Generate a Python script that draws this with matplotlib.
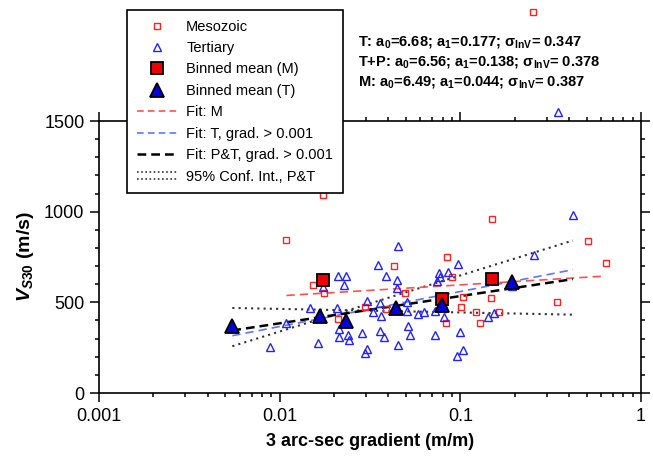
import matplotlib
matplotlib.use("Agg")
import matplotlib.pyplot as plt
from matplotlib.lines import Line2D
from matplotlib.legend_handler import HandlerBase
from matplotlib.ticker import MultipleLocator, LogLocator, NullFormatter

plt.rcParams['font.family'] = ['Liberation Sans', 'DejaVu Sans']
plt.rcParams['mathtext.fontset'] = 'custom'
plt.rcParams['mathtext.rm'] = 'Liberation Sans:bold'
plt.rcParams['mathtext.bf'] = 'Liberation Sans:bold'
plt.rcParams['mathtext.it'] = 'Liberation Sans:italic:bold'
plt.rcParams['mathtext.sf'] = 'Liberation Sans:bold'

# ---------------- data ----------------
meso_x = [0.0109, 0.0153, 0.0177, 0.0174, 0.0211, 0.0296, 0.0388, 0.0427, 0.0493,
          0.0839, 0.0897, 0.0834, 0.1037, 0.147, 0.1012, 0.1222, 0.1641, 0.128,
          0.149, 0.345, 0.506, 0.637, 0.251]
meso_y = [841, 597, 553, 1090, 408, 474, 463, 703, 553,
          748, 638, 387, 529, 526, 474, 447, 447, 388,
          962, 504, 837, 718, 2099]

tert_x = [0.00883, 0.0108, 0.0147, 0.0164, 0.0173, 0.0209, 0.0234, 0.0228, 0.0207,
          0.0214, 0.0214, 0.0240, 0.0242, 0.0285, 0.0304, 0.0297, 0.0306, 0.0327,
          0.0358, 0.0363, 0.0358, 0.0378, 0.0348, 0.0389, 0.0452, 0.0445, 0.0447,
          0.0452, 0.0507, 0.0511, 0.0526, 0.0507, 0.0586, 0.0626, 0.0726, 0.0728,
          0.0740, 0.0765, 0.0772, 0.0855, 0.0815, 0.0800, 0.0976, 0.0998, 0.103,
          0.0960, 0.1417, 0.153, 0.194, 0.257, 0.4215, 0.348]
tert_y = [251, 388, 469, 275, 584, 646, 646, 597, 470,
          352, 309, 320, 291, 331, 244, 220, 505, 448,
          496, 424, 344, 309, 705, 646, 813, 621, 577,
          267, 503, 369, 321, 452, 438, 449, 452, 319,
          615, 660, 639, 665, 417, 489, 710, 334, 236,
          202, 418, 443, 588, 763, 982, 1551]

binM_x = [0.0173, 0.0787, 0.149]
binM_y = [625, 520, 628]

binT_x = [0.00547, 0.0167, 0.0233, 0.0443, 0.0787, 0.192]
binT_y = [370, 425, 397, 469, 484, 612]

fitM_x = [0.0109, 0.637]
fitM_y = [538, 645]
fitT_x = [0.00547, 0.42]
fitT_y = [316, 680]
fitPT_x = [0.00547, 0.42]
fitPT_y = [345, 628]
ci_x = [0.00547, 0.42]
ci_a_y = [469, 432]
ci_b_y = [258, 841]

legend_labels = ['Mesozoic', 'Tertiary', 'Binned mean (M)', 'Binned mean (T)',
                 'Fit: M', 'Fit: T, grad. > 0.001', 'Fit: P&T, grad. > 0.001',
                 '95% Conf. Int., P&T']
fit_texts = ["T: a$_0$=6.68; a$_1$=0.177; \u03c3$_{\\mathrm{lnV}}$= 0.347",
             "T+P: a$_0$=6.56; a$_1$=0.138; \u03c3$_{\\mathrm{lnV}}$= 0.378",
             "M: a$_0$=6.49; a$_1$=0.044; \u03c3$_{\\mathrm{lnV}}$= 0.387"]

RED = '#ff2222'
BLUE = '#2222ff'
FITRED = '#ff5050'
FITBLUE = '#5a78ff'
CIC = '#333333'

W, H = 653, 461
fig = plt.figure(figsize=(W / 100, H / 100), dpi=100)
ax = fig.add_axes([99 / W, 1 - 393 / H, (641 - 99) / W, (393 - 121) / H])
ax.set_xscale('log')
ax.set_xlim(0.001, 1)
ax.set_ylim(0, 1500)

# lines
ax.plot(ci_x, ci_a_y, ls=(0, (1, 2)), color=CIC, lw=1.5, zorder=2)
ax.plot(ci_x, ci_b_y, ls=(0, (1, 2)), color=CIC, lw=1.5, zorder=2)
ax.plot(fitM_x, fitM_y, ls=(0, (5, 3)), color=FITRED, lw=1.2, zorder=3)
ax.plot(fitT_x, fitT_y, ls=(0, (5, 3)), color=FITBLUE, lw=1.2, zorder=3)
ax.plot(fitPT_x, fitPT_y, ls=(0, (3.5, 2)), color='black', lw=1.8, zorder=3)

# points
ax.plot(meso_x, meso_y, ls='none', marker='s', ms=5, mfc='none', mec=RED, mew=1.0,
        clip_on=False, zorder=4)
ax.plot(tert_x, tert_y, ls='none', marker='^', ms=5.5, mfc='none', mec=BLUE, mew=1.0,
        clip_on=False, zorder=4)
ax.plot(binM_x, binM_y, ls='none', marker='s', ms=8.5, mfc='#ee0000', mec='black', mew=1.3,
        zorder=5)
ax.plot(binT_x, binT_y, ls='none', marker='^', ms=9.5, mfc='#0000dd', mec='black', mew=1.3,
        zorder=5)

# axes styling
for s in ax.spines.values():
    s.set_linewidth(1.2)
ax.tick_params(which='both', direction='out', top=True, right=True, width=1.1,
               labelsize=13, color='black')
ax.tick_params(which='major', length=6.5, pad=4)
ax.tick_params(which='minor', length=3.2)
ax.set_xticks([0.001, 0.01, 0.1, 1])
ax.set_xticklabels(['0.001', '0.01', '0.1', '1'])
ax.xaxis.set_minor_locator(LogLocator(base=10, subs=range(2, 10), numticks=20))
ax.xaxis.set_minor_formatter(NullFormatter())
ax.yaxis.set_major_locator(MultipleLocator(500))
ax.yaxis.set_minor_locator(MultipleLocator(100))
ax.set_xlabel('3 arc-sec gradient (m/m)', fontsize=13, fontweight='bold', labelpad=6)
ax.set_ylabel('$V_{S30}$ (m/s)', fontsize=14, fontweight='bold', labelpad=6)


class HandlerDoubleDotted(HandlerBase):
    def create_artists(self, legend, orig_handle, xdescent, ydescent, width, height,
                       fontsize, trans):
        arts = []
        yc = height / 2 - ydescent
        for dy in (-2.4, 2.4):
            l = Line2D([-xdescent, width - xdescent], [yc + dy, yc + dy],
                       ls=(0, (1, 1.5)), color=CIC, lw=1.2)
            l.set_transform(trans)
            arts.append(l)
        return arts


h_meso = Line2D([], [], ls='none', marker='s', ms=5, mfc='none', mec=RED, mew=1.0)
h_tert = Line2D([], [], ls='none', marker='^', ms=5.5, mfc='none', mec=BLUE, mew=1.0)
h_bm = Line2D([], [], ls='none', marker='s', ms=8.5, mfc='#ee0000', mec='black', mew=1.3)
h_bt = Line2D([], [], ls='none', marker='^', ms=9.5, mfc='#0000dd', mec='black', mew=1.3)
h_fm = Line2D([], [], ls=(0, (4, 2.5)), color=FITRED, lw=1.2)
h_ft = Line2D([], [], ls=(0, (4, 2.5)), color=FITBLUE, lw=1.2)
h_fpt = Line2D([], [], ls=(0, (3.5, 2)), color='black', lw=1.8)
h_ci = Line2D([], [], ls=':', color=CIC)

leg = fig.legend([h_meso, h_tert, h_bm, h_bt, h_fm, h_ft, h_fpt, h_ci], legend_labels,
                 loc='upper left', bbox_to_anchor=(127 / W, 1 - 10 / H),
                 bbox_transform=fig.transFigure, fontsize=10.5, frameon=True,
                 fancybox=False, edgecolor='black', framealpha=1,
                 handlelength=2.8, handletextpad=0.6, labelspacing=0.51,
                 borderpad=0.66, borderaxespad=0,
                 handler_map={h_ci: HandlerDoubleDotted()})
leg.get_frame().set_linewidth(1.2)

for i, t in enumerate(fit_texts):
    fig.text(358 / W, 1 - (42 + 20 * i) / H, t, fontsize=10.5, fontweight='bold',
             va='center', ha='left')

fig.savefig('out.png', dpi=100)
